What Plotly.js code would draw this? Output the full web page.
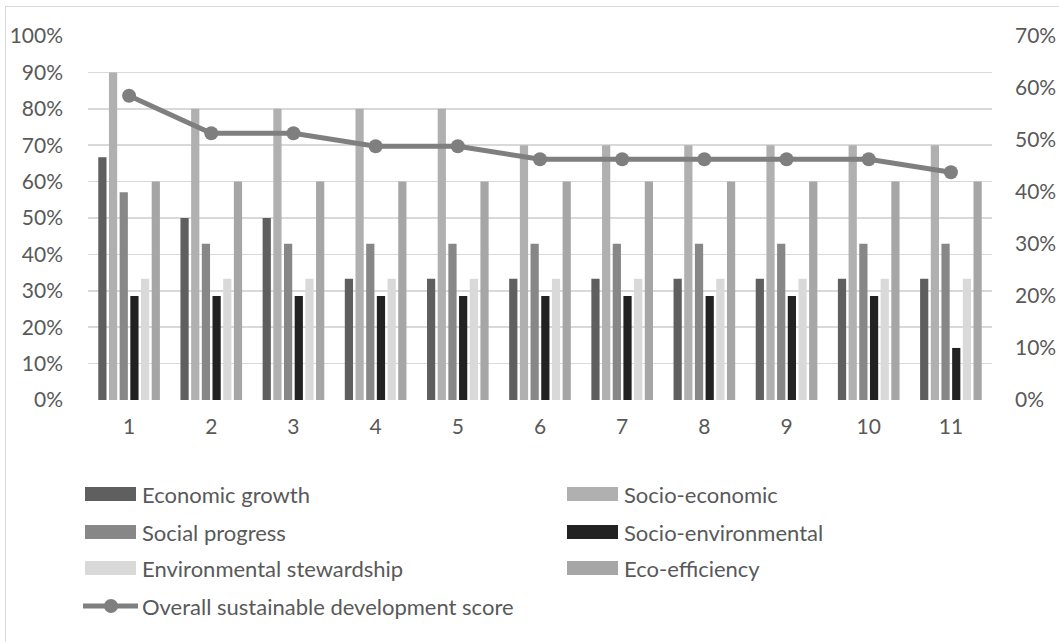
<!DOCTYPE html>
<html><head><meta charset="utf-8">
<script src="https://cdn.plot.ly/plotly-3.0.1.min.js"></script>
<style>
html,body{margin:0;padding:0;background:#fff;overflow:hidden;}
#frame{position:absolute;left:5px;top:6px;width:1060px;height:650px;border:1.5px solid #d9d9d9;box-sizing:border-box;}
#chart{position:absolute;left:0;top:0;width:1059px;height:642px;}
</style></head>
<body>
<div id="frame"></div>
<div id="chart"></div>
<script>
const categories = ['1','2','3','4','5','6','7','8','9','10','11'];
const economicGrowth = [0.667,0.50,0.50,0.333,0.333,0.333,0.333,0.333,0.333,0.333,0.333];
const socioEconomic = [0.90,0.80,0.80,0.80,0.80,0.70,0.70,0.70,0.70,0.70,0.70];
const socialProgress = [0.571,0.429,0.429,0.429,0.429,0.429,0.429,0.429,0.429,0.429,0.429];
const socioEnvironmental = [0.286,0.286,0.286,0.286,0.286,0.286,0.286,0.286,0.286,0.286,0.143];
const envStewardship = [0.333,0.333,0.333,0.333,0.333,0.333,0.333,0.333,0.333,0.333,0.333];
const ecoEfficiency = [0.60,0.60,0.60,0.60,0.60,0.60,0.60,0.60,0.60,0.60,0.60];
const overallScore = [0.585,0.513,0.513,0.488,0.488,0.463,0.463,0.463,0.463,0.463,0.438];
const seriesNames = ['Economic growth','Socio-economic','Social progress','Socio-environmental','Environmental stewardship','Eco-efficiency','Overall sustainable development score'];

const colors = ['#5f5f5f','#b0b0b0','#878787','#222222','#d9d9d9','#a6a6a6','#7f7f7f'];
const barData = [economicGrowth, socioEconomic, socialProgress, socioEnvironmental, envStewardship, ecoEfficiency];

const traces = barData.map((v,i)=>({
  type:'bar', x:categories, y:v, name:seriesNames[i],
  marker:{color:colors[i]}, hoverinfo:'y+name'
}));
traces.push({
  type:'scatter', mode:'lines+markers', x:categories, y:overallScore, yaxis:'y2',
  name:seriesNames[6], line:{color:colors[6], width:5}, marker:{color:colors[6], size:14}
});

const W=1059, H=642, L=88, R=992, T=36, B=400;
const px = x => (x-L)/(R-L);
const py = y => (B-y)/(B-T);
const fontFam = 'Lato, "Open Sans", sans-serif';
const txtColor = '#595959';

// custom legend: two columns, rows
const legendPos = [
  {x:85, y:494}, {x:567, y:494},
  {x:85, y:532}, {x:567, y:532},
  {x:85, y:568}, {x:567, y:568},
  {x:85, y:606}
];
const shapes = [];
const annotations = [];
legendPos.forEach((p,i)=>{
  if(i<6){
    shapes.push({type:'rect', xref:'paper', yref:'paper', x0:px(p.x), x1:px(p.x+51), y0:py(p.y+7), y1:py(p.y-7), fillcolor:colors[i], line:{width:0}});
  } else {
    shapes.push({type:'line', xref:'paper', yref:'paper', x0:px(p.x-2), x1:px(p.x+53), y0:py(p.y), y1:py(p.y), line:{color:colors[i], width:5}});
    shapes.push({type:'circle', xref:'paper', yref:'paper', x0:px(p.x+19), x1:px(p.x+33), y0:py(p.y+7), y1:py(p.y-7), fillcolor:colors[i], line:{width:0}});
  }
  annotations.push({xref:'paper', yref:'paper', x:px(p.x+55), y:py(p.y), xanchor:'left', yanchor:'middle', showarrow:false,
    text:seriesNames[i], font:{family:fontFam, size:22, color:txtColor}});
});

const layout = {
  width:W, height:H,
  margin:{l:L, r:W-R, t:T, b:H-B, pad:0},
  paper_bgcolor:'rgba(0,0,0,0)', plot_bgcolor:'rgba(0,0,0,0)',
  showlegend:false,
  barmode:'group', bargap:0.22, bargroupgap:0.23,
  font:{family:fontFam, size:21, color:txtColor},
  xaxis:{type:'category', range:[-0.5,10.5], autorange:false, showgrid:false, zeroline:false, showline:false, ticks:'', ticklabelstandoff:12, tickfont:{size:21, color:txtColor}},
  yaxis:{range:[0,1], dtick:0.1, tickformat:'.0%', showgrid:true, gridcolor:'#d9d9d9', gridwidth:1.5, zeroline:false, showline:false, ticks:'', ticklabelstandoff:24, tickfont:{size:21, color:txtColor}},
  yaxis2:{range:[0,0.7], dtick:0.1, tickformat:'.0%', overlaying:'y', side:'right', showgrid:false, zeroline:false, showline:false, ticks:'', ticklabelstandoff:22, tickfont:{size:21, color:txtColor}},
  shapes:shapes, annotations:annotations
};
Plotly.newPlot('chart', traces, layout, {displayModeBar:false, staticPlot:true});
</script>
</body></html>
